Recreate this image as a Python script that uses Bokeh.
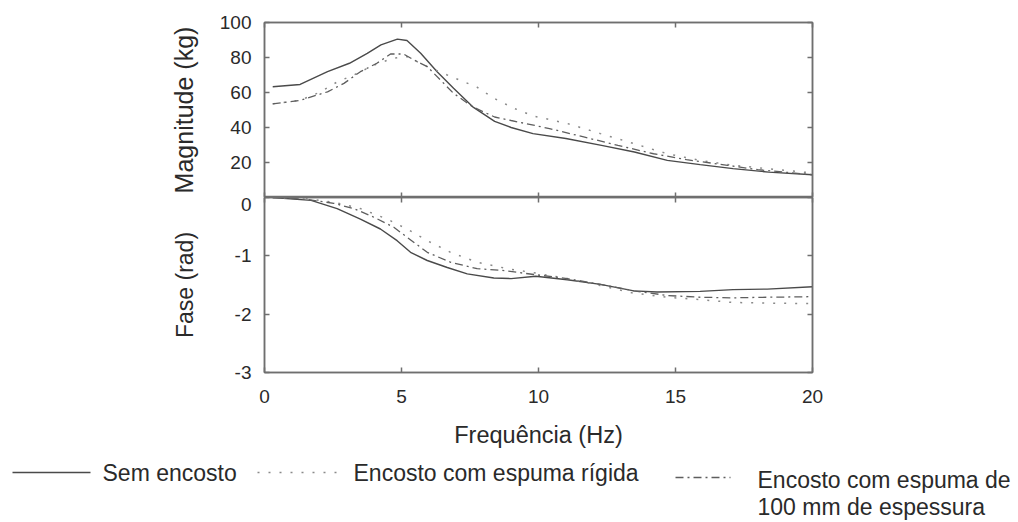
from bokeh.plotting import figure
from bokeh.layouts import column
from bokeh.models import Range1d, LinearAxis, FixedTicker, CustomLabelingPolicy
from bokeh.core.properties import value
from bokeh.embed import file_html
from bokeh.resources import INLINE

# ---------------- data ----------------
mag_sem_f = [0.3, 1.3, 2.3, 3.1, 3.75, 4.25, 4.85, 5.2, 5.7, 6.3, 6.9, 7.6, 8.4, 9.0, 9.8, 11.0, 12.3, 13.5, 14.7, 15.9, 17.1, 18.4, 20.0]
mag_sem_v = [63.3, 64.6, 71.9, 76.7, 82.4, 87.2, 90.5, 89.7, 82.4, 71.9, 62.4, 51.8, 43.5, 40.0, 36.5, 33.7, 29.8, 26.0, 21.2, 18.8, 16.5, 14.5, 13.0]

mag_rig_f = [0.3, 1.3, 2.0, 2.65, 3.26, 4.0, 4.7, 5.2, 5.94, 6.67, 7.76, 8.4, 9.1, 9.83, 11.05, 12.26, 13.48, 14.7, 15.9, 17.1, 18.35, 20.0]
mag_rig_v = [53.5, 55.6, 60.0, 66.0, 70.0, 75.7, 79.6, 80.5, 74.8, 70.0, 63.0, 56.5, 51.0, 46.5, 42.3, 36.5, 30.8, 25.0, 21.2, 18.4, 16.5, 14.0]

mag_100_f = [0.3, 1.3, 2.3, 2.9, 3.5, 4.1, 4.6, 5.07, 5.57, 5.94, 6.9, 7.6, 8.4, 9.0, 10.4, 11.65, 12.9, 14.2, 15.4, 16.9, 18.0, 20.0]
mag_100_v = [53.5, 55.5, 60.4, 65.2, 71.9, 76.7, 82.0, 82.0, 77.6, 74.8, 59.5, 51.8, 46.0, 44.0, 39.4, 34.6, 29.8, 25.0, 21.6, 18.4, 15.9, 13.0]

fase_sem_f = [0.3, 1.7, 2.65, 3.5, 4.23, 4.84, 5.33, 5.94, 6.67, 7.4, 8.37, 9.0, 9.9, 11.05, 12.26, 13.48, 14.33, 15.9, 17.1, 18.35, 20.0]
fase_sem_v = [0.0, -0.05, -0.19, -0.37, -0.54, -0.74, -0.94, -1.08, -1.2, -1.31, -1.38, -1.39, -1.35, -1.41, -1.49, -1.6, -1.62, -1.61, -1.58, -1.57, -1.53]

fase_rig_f = [0.3, 1.5, 2.53, 3.5, 4.48, 5.2, 5.94, 6.79, 7.76, 8.86, 9.83, 11.05, 12.26, 13.48, 14.7, 15.9, 17.1, 18.35, 20.0]
fase_rig_v = [0.0, -0.02, -0.08, -0.19, -0.37, -0.54, -0.74, -0.94, -1.11, -1.22, -1.29, -1.39, -1.51, -1.64, -1.71, -1.75, -1.8, -1.81, -1.82]

fase_100_f = [0.3, 1.5, 2.53, 3.26, 4.0, 4.72, 5.2, 5.94, 6.79, 7.76, 8.68, 9.83, 11.05, 12.26, 13.48, 14.7, 15.9, 17.1, 18.35, 20.0]
fase_100_v = [0.0, -0.03, -0.1, -0.19, -0.34, -0.51, -0.68, -0.94, -1.11, -1.22, -1.25, -1.32, -1.39, -1.49, -1.6, -1.68, -1.71, -1.72, -1.71, -1.7]

x_ticks = [0, 5, 10, 15, 20]
mag_ticks = [0, 20, 40, 60, 80, 100]
fase_ticks = [-3, -2, -1, 0]
fase_tick_text = {-3: "-3", -2: "-2", -1: "-1", 0: "0"}

series_labels = ["Sem encosto", "Encosto com espuma rígida", "Encosto com espuma de\n100 mm de espessura"]

# ---------------- styles ----------------
FONT = "Liberation Sans"
FRAME = "#6f6f6f"
TXT = "#2a2a2a"
styles = [
    dict(line_color="#4a4a4a", line_width=1.4, line_dash="solid"),
    dict(line_color="#8a8a8a", line_width=1.5, line_dash="2 9"),
    dict(line_color="#5e5e5e", line_width=1.3, line_dash="8 4 2 4"),
]

NO_LABELS_JS = """
try { return indices.constructor.all_unset(indices.size); } catch (e) {}
try { const n = indices.size; for (let i = 0; i < n; i++) { indices.unset(i); } return indices; } catch (e) {}
return indices;
"""


def style_axis(ax, labels=True, size="19px", standoff=13):
    ax.major_tick_in = 5
    ax.major_tick_out = 0
    ax.minor_tick_line_color = None
    ax.major_tick_line_color = FRAME
    ax.major_tick_line_width = 1.5
    ax.axis_line_color = FRAME
    ax.axis_line_width = 1.5
    ax.major_label_text_font = FONT
    ax.major_label_text_color = TXT
    if labels:
        ax.major_label_text_font_size = size
        ax.major_label_standoff = standoff
    else:
        ax.major_label_text_font_size = "0px"
        ax.major_label_policy = CustomLabelingPolicy(code=NO_LABELS_JS)
        ax.major_label_standoff = 0


def base_fig(height, y_range, top, bottom):
    p = figure(width=1018, height=height, x_range=Range1d(0, 20), y_range=y_range,
               output_backend="svg", toolbar_location=None,
               min_border_left=264, min_border_right=206,
               min_border_top=top, min_border_bottom=bottom)
    p.grid.grid_line_color = None
    p.outline_line_color = FRAME
    p.outline_line_width = 1.5
    p.background_fill_color = "white"
    p.border_fill_color = "white"
    return p


def axis_title(ax, text, standoff, size="23px"):
    ax.axis_label = text
    ax.axis_label_text_font = FONT
    ax.axis_label_text_font_size = size
    ax.axis_label_text_font_style = "normal"
    ax.axis_label_text_color = TXT
    ax.axis_label_standoff = standoff


# ---------------- top panel: magnitude ----------------
p1 = base_fig(197, Range1d(0, 100), 22, 0)
p1.xaxis.ticker = FixedTicker(ticks=x_ticks)
style_axis(p1.xaxis[0], labels=False)
p1.yaxis.ticker = FixedTicker(ticks=mag_ticks)
style_axis(p1.yaxis[0])
p1.yaxis.major_label_overrides = {0: ""}
axis_title(p1.yaxis[0], "Magnitude (kg)", 19, size="25px")
ax_r1 = LinearAxis(ticker=FixedTicker(ticks=mag_ticks))
style_axis(ax_r1, labels=False)
p1.add_layout(ax_r1, "right")
ax_t1 = LinearAxis(ticker=FixedTicker(ticks=x_ticks))
style_axis(ax_t1, labels=False)
p1.add_layout(ax_t1, "above")

for f, v, st in [(mag_sem_f, mag_sem_v, styles[0]), (mag_rig_f, mag_rig_v, styles[1]), (mag_100_f, mag_100_v, styles[2])]:
    p1.line(f, v, **st)

# ---------------- bottom panel: phase ----------------
p2 = base_fig(260, Range1d(-3, 0), 0, 85)
p2.xaxis.ticker = FixedTicker(ticks=x_ticks)
style_axis(p2.xaxis[0], standoff=17)
axis_title(p2.xaxis[0], "Frequência (Hz)", 16, size="23.5px")
p2.yaxis.ticker = FixedTicker(ticks=fase_ticks)
style_axis(p2.yaxis[0])
p2.yaxis.major_label_overrides = fase_tick_text
axis_title(p2.yaxis[0], "Fase (rad)", 34)
ax_r2 = LinearAxis(ticker=FixedTicker(ticks=fase_ticks))
style_axis(ax_r2, labels=False)
p2.add_layout(ax_r2, "right")
ax_t2 = LinearAxis(ticker=FixedTicker(ticks=x_ticks))
style_axis(ax_t2, labels=False)
p2.add_layout(ax_t2, "above")

for f, v, st in [(fase_sem_f, fase_sem_v, styles[0]), (fase_rig_f, fase_rig_v, styles[1]), (fase_100_f, fase_100_v, styles[2])]:
    p2.line(f, v, **st)

# ---------------- legend strip (separate root, pixel coordinates) ----------------
p3 = figure(width=1018, height=65, x_range=Range1d(0, 1018), y_range=Range1d(65, 0),
            output_backend="svg", toolbar_location=None,
            x_axis_location=None, y_axis_location=None,
            min_border_left=0, min_border_right=0, min_border_top=0, min_border_bottom=0)
p3.grid.grid_line_color = None
p3.outline_line_color = None

leg_line_x = [(12, 90), (257, 343), (675, 730)]
leg_line_y = [15, 15, 20]
leg_text_x = [102, 353, 757]
leg_text_y = [15, 15, 22]
for i, st in enumerate(styles):
    p3.line(list(leg_line_x[i]), [leg_line_y[i]] * 2, **st)
    for j, t in enumerate(series_labels[i].split("\n")):
        p3.text(x=[leg_text_x[i]], y=[leg_text_y[i] + 27 * j], text=[t],
                text_font=value(FONT), text_font_size="23px", text_color=TXT,
                text_baseline="middle", text_align="left")

layout = column(p1, p2, spacing=0)
open("out.html", "w").write(file_html([layout, p3], INLINE))
